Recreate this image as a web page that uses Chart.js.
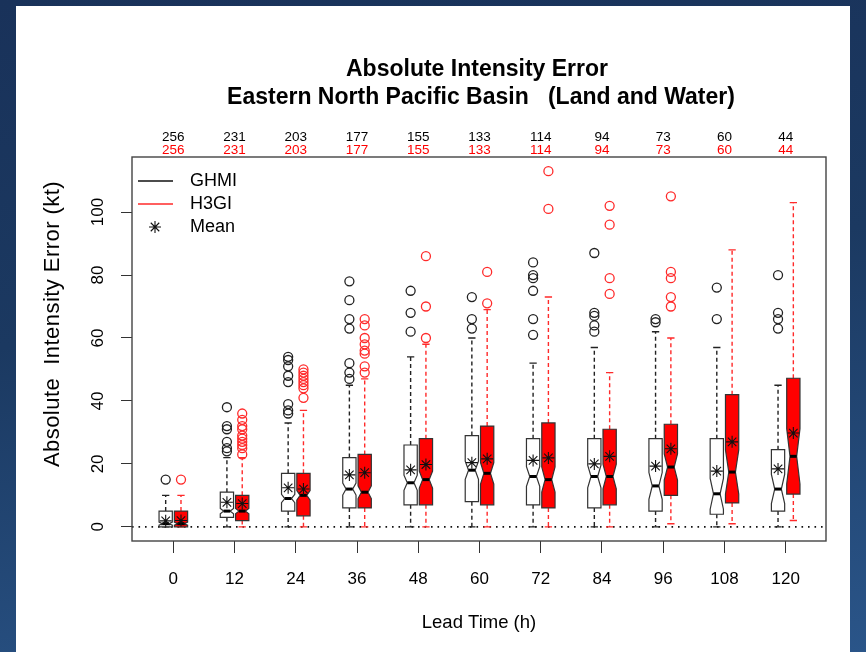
<!DOCTYPE html>
<html>
<head>
<meta charset="utf-8">
<script src="https://cdn.jsdelivr.net/npm/chart.js@4.4.1/dist/chart.umd.min.js"></script>
<style>
  html, body { margin: 0; padding: 0; }
  body {
    width: 866px; height: 652px; overflow: hidden; position: relative;
    background: linear-gradient(172deg, #19325a 0%, #1b3961 45%, #2a5589 100%);
  }
  #panel { position: absolute; left: 16px; top: 6px; width: 834px; height: 646px; background: #ffffff; }
  canvas { display: block; }
</style>
</head>
<body>
<div id="panel"><canvas id="c" width="834" height="646"></canvas></div>
<script>
// ---------------- data ----------------
const leadTimes = [0, 12, 24, 36, 48, 60, 72, 84, 96, 108, 120];
const yTickValues = [0, 20, 40, 60, 80, 100];
const ghmiCounts = [256, 231, 203, 177, 155, 133, 114, 94, 73, 60, 44];
const h3giCounts = [256, 231, 203, 177, 155, 133, 114, 94, 73, 60, 44];

const ghmiLow    = [0, 0, 0, 0, 0, 0, 0, 0, 0, 0, 0];
const ghmiQ1     = [0, 3, 5, 6, 7, 8, 7, 6, 5, 4, 5];
const ghmiMedian = [1, 5, 9, 12, 14, 18, 16, 16, 13, 10.5, 12];
const ghmiQ3     = [5, 11, 17, 22, 26, 29, 28, 28, 28, 28, 24.5];
const ghmiHigh   = [10, 22, 33, 45, 54, 60, 52, 57, 62, 57, 45];
const ghmiMean   = [1.9, 7.8, 12.4, 16.5, 18.1, 20.4, 21.1, 20, 19.3, 17.7, 18.4];
const ghmiOutliers = [
  [15], [38, 32, 31, 27, 25, 24], [54, 53, 51, 48, 46, 39, 37, 36],
  [78, 72, 66, 63, 52, 49, 47], [75, 68, 62], [73, 66, 63],
  [84, 80, 79, 75, 66, 61], [87, 68, 67, 64, 62], [66, 65], [76, 66], [80, 68, 66, 63]
];

const h3giLow    = [0, 0, 0, 0, 0, 0, 0, 0, 1, 1, 2];
const h3giQ1     = [0, 2, 3.5, 6, 7, 7, 6, 7, 10, 7.6, 10.4];
const h3giMedian = [1, 5, 10, 11, 15, 17, 15, 16, 19, 17.4, 22.4];
const h3giQ3     = [5, 10, 17, 23, 28, 32, 33, 31, 32.6, 42, 47.2];
const h3giHigh   = [10, 22, 37, 47, 58, 69, 73, 49, 60, 88, 103];
const h3giMean   = [2, 7.4, 12, 17.2, 19.8, 21.6, 21.9, 22.4, 24.8, 27, 29.8];
const h3giOutliers = [
  [15], [36, 34, 32, 31, 29, 28, 27, 26, 25, 23], [50, 49, 48, 47, 46, 45, 44, 41],
  [66, 64, 60, 58, 56, 55, 51, 49], [86, 70, 60], [81, 71], [113, 101],
  [102, 96, 79, 74], [105, 81, 79, 73, 70], [], []
];

const seriesNames = ['GHMI', 'H3GI'];
const titleLines = ['Absolute Intensity Error', 'Eastern North Pacific Basin   (Land and Water)'];
const yTitle = 'Absolute  Intensity Error (kt)';
const xTitle = 'Lead Time (h)';

// ---------------- styling constants ----------------
const FONT = '"Liberation Sans", Arial, Helvetica, sans-serif';
const OFFSET = 1.5;     // hours each box is shifted from its lead time
const HALF_W = 1.3;     // half box width, in hours
const RED = '#ff0000';
const BLACK = '#000000';

const series = [
  { low: ghmiLow, q1: ghmiQ1, med: ghmiMedian, q3: ghmiQ3, high: ghmiHigh, n: ghmiCounts,
    shift: -OFFSET, fill: '#ffffff', border: '#333333', whisker: '#222222' },
  { low: h3giLow, q1: h3giQ1, med: h3giMedian, q3: h3giQ3, high: h3giHigh, n: h3giCounts,
    shift: OFFSET, fill: RED, border: '#333333', whisker: '#ff2a2a' }
];

function pts(outs, shift) {
  const r = [];
  outs.forEach((arr, i) => arr.forEach(v => r.push({ x: leadTimes[i] + shift, y: v })));
  return r;
}
function meanPts(means, shift) {
  return means.map((v, i) => ({ x: leadTimes[i] + shift, y: v }));
}

const boxPlugin = {
  id: 'boxes',
  beforeDatasetsDraw(chart) {
    const ctx = chart.ctx, xs = chart.scales.x, ys = chart.scales.y, ca = chart.chartArea;
    ctx.save();
    // dotted zero line
    ctx.strokeStyle = '#111';
    ctx.lineWidth = 1.6;
    ctx.setLineDash([1.6, 4.9]);
    ctx.beginPath();
    ctx.moveTo(ca.left, ys.getPixelForValue(0));
    ctx.lineTo(ca.right, ys.getPixelForValue(0));
    ctx.stroke();

    const hw = xs.getPixelForValue(HALF_W) - xs.getPixelForValue(0);
    series.forEach(s => {
      leadTimes.forEach((t, i) => {
        const cx = xs.getPixelForValue(t + s.shift);
        const yLo = ys.getPixelForValue(s.low[i]);
        const yQ1 = ys.getPixelForValue(s.q1[i]);
        const yMed = ys.getPixelForValue(s.med[i]);
        const yQ3 = ys.getPixelForValue(s.q3[i]);
        const yHi = ys.getPixelForValue(s.high[i]);
        const nh = 1.58 * (s.q3[i] - s.q1[i]) / Math.sqrt(s.n[i]);
        const yNlo = ys.getPixelForValue(s.med[i] - nh);
        const yNhi = ys.getPixelForValue(s.med[i] + nh);
        // whiskers
        ctx.strokeStyle = s.whisker;
        ctx.lineWidth = 1.4;
        ctx.setLineDash([4, 3]);
        ctx.beginPath();
        ctx.moveTo(cx, yQ3); ctx.lineTo(cx, yHi);
        ctx.moveTo(cx, yQ1); ctx.lineTo(cx, yLo);
        ctx.stroke();
        ctx.setLineDash([]);
        ctx.beginPath();
        ctx.moveTo(cx - hw * 0.55, yHi); ctx.lineTo(cx + hw * 0.55, yHi);
        ctx.moveTo(cx - hw * 0.55, yLo); ctx.lineTo(cx + hw * 0.55, yLo);
        ctx.stroke();
        // notched box
        ctx.beginPath();
        ctx.moveTo(cx - hw, yQ1);
        ctx.lineTo(cx - hw, yNlo);
        ctx.lineTo(cx - hw * 0.5, yMed);
        ctx.lineTo(cx - hw, yNhi);
        ctx.lineTo(cx - hw, yQ3);
        ctx.lineTo(cx + hw, yQ3);
        ctx.lineTo(cx + hw, yNhi);
        ctx.lineTo(cx + hw * 0.5, yMed);
        ctx.lineTo(cx + hw, yNlo);
        ctx.lineTo(cx + hw, yQ1);
        ctx.closePath();
        ctx.fillStyle = s.fill;
        ctx.fill();
        ctx.strokeStyle = s.border;
        ctx.lineWidth = 1.2;
        ctx.stroke();
        // median
        ctx.strokeStyle = BLACK;
        ctx.lineWidth = 3;
        ctx.beginPath();
        ctx.moveTo(cx - hw * 0.5, yMed); ctx.lineTo(cx + hw * 0.5, yMed);
        ctx.stroke();
      });
    });
    ctx.restore();
  },
  afterDraw(chart) {
    const ctx = chart.ctx, xs = chart.scales.x, ca = chart.chartArea;
    ctx.save();
    // plot frame
    ctx.strokeStyle = '#444';
    ctx.lineWidth = 1.4;
    ctx.strokeRect(ca.left, ca.top, ca.right - ca.left, ca.bottom - ca.top);

    const midX = (ca.left + ca.right) / 2;
    // title
    ctx.fillStyle = '#000';
    ctx.textAlign = 'center';
    ctx.textBaseline = 'alphabetic';
    ctx.font = 'bold 23px ' + FONT;
    ctx.fillText(titleLines[0], midX - 2, 70);
    ctx.fillText(titleLines[1], midX + 2, 98);

    // counts
    ctx.font = '13.5px ' + FONT;
    leadTimes.forEach((t, i) => {
      const x = xs.getPixelForValue(t);
      ctx.fillStyle = '#000';
      ctx.fillText(String(ghmiCounts[i]), x, 135);
      ctx.fillStyle = RED;
      ctx.fillText(String(h3giCounts[i]), x, 147.5);
    });

    // y title
    ctx.save();
    ctx.translate(37, 318);
    ctx.rotate(-Math.PI / 2);
    ctx.fillStyle = '#000';
    ctx.font = '22px ' + FONT;
    if ('letterSpacing' in ctx) ctx.letterSpacing = '0.45px';
    ctx.textAlign = 'center';
    ctx.textBaseline = 'middle';
    ctx.fillText(yTitle, 0, 0);
    ctx.restore();

    // legend
    const lx = ca.left + 6, ly = ca.top + 24, step = 23;
    ctx.lineWidth = 1.6;
    ctx.strokeStyle = '#111';
    ctx.beginPath(); ctx.moveTo(lx, ly); ctx.lineTo(lx + 35, ly); ctx.stroke();
    ctx.strokeStyle = '#ff2a2a';
    ctx.beginPath(); ctx.moveTo(lx, ly + step); ctx.lineTo(lx + 35, ly + step); ctx.stroke();
    // mean star
    const sx = lx + 17, sy = ly + 2 * step, r = 6;
    ctx.strokeStyle = '#111';
    ctx.lineWidth = 1.1;
    ctx.beginPath();
    for (let k = 0; k < 4; k++) {
      const a = k * Math.PI / 4;
      ctx.moveTo(sx - r * Math.cos(a), sy - r * Math.sin(a));
      ctx.lineTo(sx + r * Math.cos(a), sy + r * Math.sin(a));
    }
    ctx.stroke();
    ctx.fillStyle = '#000';
    ctx.font = '18px ' + FONT;
    ctx.textAlign = 'left';
    ctx.textBaseline = 'middle';
    ctx.fillText(seriesNames[0], lx + 52, ly);
    ctx.fillText(seriesNames[1], lx + 52, ly + step);
    ctx.fillText('Mean', lx + 52, ly + 2 * step);
    ctx.restore();
  }
};

new Chart(document.getElementById('c'), {
  type: 'scatter',
  data: {
    datasets: [
      { label: 'GHMI outliers', data: pts(ghmiOutliers, -OFFSET), pointStyle: 'circle', radius: 4.5,
        borderColor: '#222', backgroundColor: 'rgba(0,0,0,0)', borderWidth: 1.3 },
      { label: 'H3GI outliers', data: pts(h3giOutliers, OFFSET), pointStyle: 'circle', radius: 4.5,
        borderColor: '#ff2a2a', backgroundColor: 'rgba(0,0,0,0)', borderWidth: 1.3 },
      { label: 'GHMI mean', data: meanPts(ghmiMean, -OFFSET), pointStyle: 'star', radius: 6,
        borderColor: '#111', backgroundColor: '#111', borderWidth: 1.1 },
      { label: 'H3GI mean', data: meanPts(h3giMean, OFFSET), pointStyle: 'star', radius: 6,
        borderColor: '#111', backgroundColor: '#111', borderWidth: 1.1 }
    ]
  },
  options: {
    responsive: false,
    animation: false,
    devicePixelRatio: 1,
    layout: { padding: { top: 151, right: 24, left: 0, bottom: 0 } },
    plugins: { legend: { display: false }, tooltip: { enabled: false }, title: { display: false } },
    events: [],
    scales: {
      x: {
        type: 'linear', min: -8.1, max: 127.9,
        afterBuildTicks: (axis) => { axis.ticks = leadTimes.map(v => ({ value: v })); },
        afterFit: (axis) => { axis.height = 111; },
        grid: { display: true, drawOnChartArea: false, drawTicks: true, tickLength: 12, color: '#333', lineWidth: 1 },
        border: { display: false },
        ticks: { color: '#000', font: { family: FONT, size: 17 }, padding: 16, maxRotation: 0, minRotation: 0 },
        title: { display: true, text: xTitle, color: '#000', font: { family: FONT, size: 18.5 }, padding: { top: 0, bottom: 18 } }
      },
      y: {
        type: 'linear', min: -4.5, max: 117.5,
        afterBuildTicks: (axis) => { axis.ticks = yTickValues.map(v => ({ value: v })); },
        afterFit: (axis) => { axis.width = 116; },
        grid: { display: true, drawOnChartArea: false, drawTicks: true, tickLength: 11, color: '#333', lineWidth: 1 },
        border: { display: false },
        ticks: { color: '#000', font: { family: FONT, size: 17 }, padding: 9, minRotation: 90, maxRotation: 90, crossAlign: 'center' }
      }
    }
  },
  plugins: [boxPlugin]
});
</script>
</body>
</html>
